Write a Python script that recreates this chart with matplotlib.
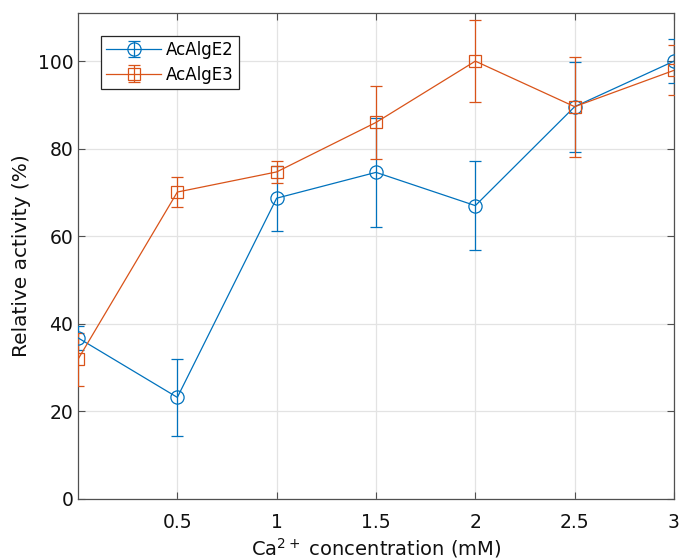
import matplotlib
matplotlib.use("Agg")
import matplotlib.pyplot as plt

conc = [0, 0.5, 1, 1.5, 2, 2.5, 3]
e2_mean = [36.8, 23.2, 68.7, 74.6, 67.0, 89.6, 100.0]
e2_err = [2.8, 8.8, 7.4, 12.4, 10.2, 10.3, 5.0]
e3_mean = [31.9, 70.1, 74.7, 86.0, 100.0, 89.6, 97.9]
e3_err = [6.0, 3.5, 2.6, 8.3, 9.4, 11.4, 5.7]
xticks = [0.5, 1, 1.5, 2, 2.5, 3]
xticklabels = ["0.5", "1", "1.5", "2", "2.5", "3"]
yticks = [0, 20, 40, 60, 80, 100]

plt.rcParams['font.family'] = ['DejaVu Sans']
fig = plt.figure(figsize=(6.86, 5.6), dpi=100)
ax = fig.add_axes([0.1137, 0.109, 0.8688, 0.8678])

blue = '#0072BD'
orange = '#D95319'
ax.errorbar(conc, e2_mean, yerr=e2_err, color=blue, marker='o', ms=9.5,
            mfc='none', mew=0.9, lw=0.9, capsize=4.5, elinewidth=0.9,
            capthick=0.9, label='AcAlgE2', zorder=3)
ax.errorbar(conc, e3_mean, yerr=e3_err, color=orange, marker='s', ms=8,
            mfc='none', mew=0.9, lw=0.9, capsize=4.5, elinewidth=0.9,
            capthick=0.9, label='AcAlgE3', zorder=3)

ax.set_xlim(0, 3)
ax.set_ylim(0, 111)
ax.set_xticks(xticks)
ax.set_xticklabels(xticklabels)
ax.set_yticks(yticks)
ax.grid(True, color='#e3e3e3', lw=0.9)
ax.set_axisbelow(True)
for s in ax.spines.values():
    s.set_color('#505050')
    s.set_linewidth(0.9)
ax.tick_params(direction='in', top=True, right=True, length=5,
               color='#505050', labelsize=13.5, labelcolor='#111111')
ax.tick_params(axis='x', pad=10)
ax.tick_params(axis='y', pad=3.5)
ax.set_xlabel('Ca$^{2+}$ concentration (mM)', fontsize=14, color='#111111',
              labelpad=3)
ax.set_ylabel('Relative activity (%)', fontsize=14.5, color='#111111',
              labelpad=4.5)
leg = ax.legend(loc='upper left', bbox_to_anchor=(0.0386, 0.9527),
                borderaxespad=0, fontsize=12,
                fancybox=False, framealpha=1, edgecolor='#262626',
                handlelength=3.3, handletextpad=0.3, borderpad=0.3,
                labelspacing=0.4)
leg.get_frame().set_linewidth(0.9)

fig.savefig('out.png', dpi=100)
